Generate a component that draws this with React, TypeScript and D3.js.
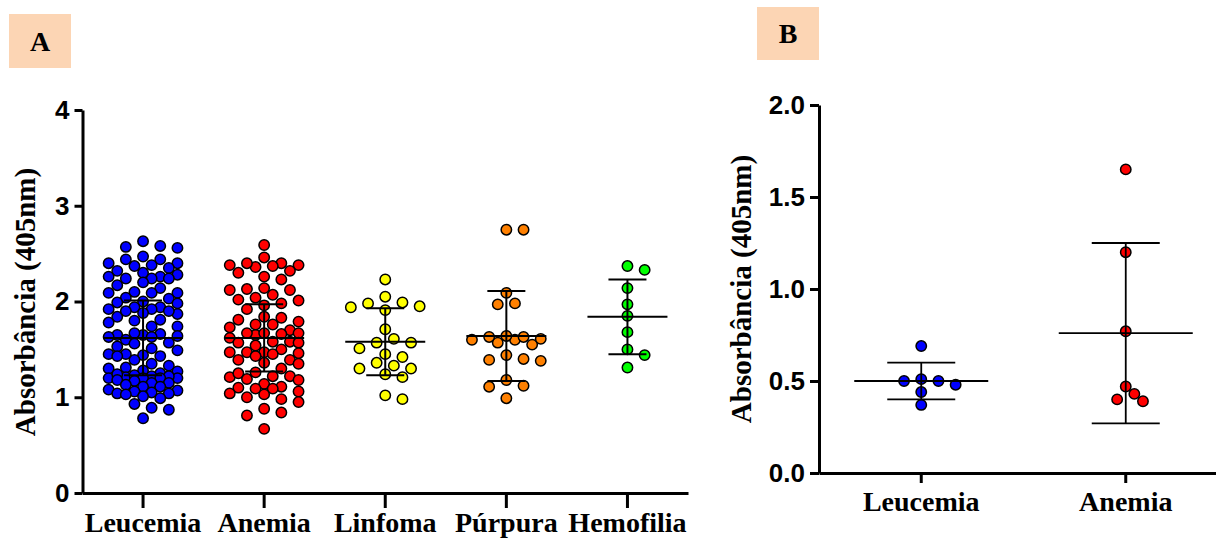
import { useRef, useEffect } from "react";
import * as d3 from "d3";

// panel A
const categoriesA = ["Leucemia", "Anemia", "Linfoma", "Púrpura", "Hemofilia"];
const leucemiaA = [
  2.63, 2.58, 2.57, 2.56, 2.47, 2.44, 2.44, 2.4, 2.4, 2.38, 2.37, 2.35, 2.32, 2.28,
  2.26, 2.26, 2.24, 2.24, 2.24, 2.3, 2.2, 2.17, 2.14, 2.1, 2.09, 2.09, 2.09,
  2.04, 2.03, 2.0, 1.98, 1.99, 1.94, 1.92, 1.92, 1.94, 1.9, 1.87, 1.88, 1.9,
  1.84, 1.81, 1.8, 1.74, 1.74, 1.78, 1.64, 1.65, 1.66, 1.65, 1.63, 1.63, 1.67,
  1.6, 1.57, 1.56, 1.49, 1.51, 1.53, 1.43, 1.45, 1.44, 1.45, 1.43, 1.39, 1.35,
  1.33, 1.3, 1.31, 1.28, 1.27, 1.25, 1.21, 1.23, 1.2, 1.22, 1.24, 1.2, 1.2, 1.22, 1.2,
  1.18, 1.17, 1.15, 1.15, 1.13, 1.11, 1.11, 1.08, 1.07, 1.05, 1.04, 1.06, 1.04, 1.01,
  0.99, 1.03, 0.93, 0.89, 0.87, 0.78,
];
const anemiaA = [
  2.59, 2.46, 2.4, 2.36, 2.38, 2.4, 2.37, 2.38, 2.32, 2.3, 2.26, 2.23,
  2.14, 2.12, 2.13, 2.12, 2.07, 2.02, 2.01, 2.04, 1.96, 1.98, 1.92,
  1.84, 1.81, 1.83, 1.79, 1.73, 1.76, 1.76, 1.7, 1.65, 1.67, 1.67, 1.67, 1.66,
  1.62, 1.58, 1.58, 1.57, 1.57, 1.54, 1.47, 1.46, 1.5, 1.47, 1.45, 1.47,
  1.36, 1.39, 1.43, 1.39, 1.35, 1.3, 1.26, 1.21, 1.22, 1.22, 1.25, 1.19, 1.18, 1.14,
  1.11, 1.09, 1.09, 1.1, 1.04, 1.06, 1.0, 1.03, 0.98, 0.95, 0.84, 0.88, 0.81, 0.67,
];
const linfomaA = [
  2.23, 2.05, 1.99, 1.95, 1.91, 1.94, 1.98, 1.71, 1.57, 1.61, 1.57,
  1.51, 1.42, 1.45, 1.3, 1.36, 1.3, 1.33, 1.24, 1.21, 0.98, 1.02,
];
const purpuraA = [
  2.75, 2.75, 2.09, 1.97, 1.98, 1.6, 1.55, 1.6, 1.63, 1.57, 1.64,
  1.61, 1.63, 1.44, 1.4, 1.38, 1.39, 1.18, 1.12, 1.11, 0.99,
];
const hemofiliaA = [2.37, 2.33, 2.14, 1.97, 1.85, 1.68, 1.5, 1.44, 1.31];
// mean and sd as drawn in the figure
const meanA = [1.62, 1.62, 1.58, 1.64, 1.84];
const sdA = [0.39, 0.35, 0.35, 0.47, 0.39];
const ticksA = [0, 1, 2, 3, 4];

// panel B
const categoriesB = ["Leucemia", "Anemia"];
const leucemiaB = [0.69, 0.51, 0.5, 0.48, 0.5, 0.44, 0.37];
const anemiaB = [1.65, 1.2, 0.77, 0.43, 0.39, 0.4, 0.47];
const meanB = [0.5, 0.76];
const sdB = [0.1, 0.49];
const ticksB = [0, 0.5, 1, 1.5, 2];

const colorsA = ["#0000ff", "#ff0000", "#ffff00", "#ff8000", "#00ff00"];
const colorsB = ["#0000ff", "#ff0000"];
const yTitle = "Absorbância (405nm)";

const serif = "Liberation Serif, Times New Roman, serif";
const sans = "Liberation Sans, Arial, sans-serif";

// greedy column layout, like a prism scatter dot plot
function swarm(values: number[], y: (v: number) => number, step: number, minDist: number, maxCol: number) {
  const placed: { x: number; y: number }[] = [];
  const out: number[] = new Array(values.length).fill(0);
  const order = values.map((_, i) => i).sort((a, b) => values[b] - values[a]);
  for (const i of order) {
    const py = y(values[i]);
    let best = 0;
    let bestD = -1;
    for (let k = 0; k <= 2 * maxCol; k++) {
      const col = k === 0 ? 0 : k % 2 ? Math.ceil(k / 2) : -k / 2;
      const px = col * step;
      let dmin = Infinity;
      for (const p of placed) dmin = Math.min(dmin, Math.hypot(p.x - px, p.y - py));
      if (dmin >= minDist) { best = px; break; }
      if (dmin > bestD) { bestD = dmin; best = px; }
    }
    placed.push({ x: best, y: py });
    out[i] = best;
  }
  return out;
}

function drawPanel(svg: any, opt: any) {
  const { cats, groups, means, sds, colors, x0, x1, yTop, yBottom, domain, ticks, fmt,
    yTickLen, xTickLen, xPad, meanHalf, capHalf, lineW, label, box, titleX, titleY, step } = opt;
  const x = d3.scaleBand().domain(cats).range([x0, x1]);
  const y = d3.scaleLinear().domain(domain).range([yBottom, yTop]);
  const g = svg.append("g");

  // label box
  g.append("rect").attr("x", box[0]).attr("y", box[1]).attr("width", box[2]).attr("height", box[3]).attr("fill", "#fcd5b4");
  g.append("text").attr("x", box[0] + box[2] / 2).attr("y", box[4]).attr("text-anchor", "middle")
    .attr("font-family", serif).attr("font-weight", "bold").attr("font-size", 28).text(label);

  // y title
  g.append("text").attr("transform", `translate(${titleX},${titleY}) rotate(-90)`).attr("text-anchor", "middle")
    .attr("font-family", serif).attr("font-weight", "bold").attr("font-size", 29).text(yTitle);

  // axes
  const yAxis = g.append("g").attr("transform", `translate(${x0},0)`)
    .call(d3.axisLeft(y).tickValues(ticks).tickFormat(d3.format(fmt)).tickSize(yTickLen).tickSizeOuter(0).tickPadding(5));
  yAxis.select(".domain").attr("stroke-width", 3);
  yAxis.selectAll(".tick line").attr("stroke-width", 3);
  yAxis.selectAll("text").attr("font-family", sans).attr("font-weight", "bold")
    .attr("font-size", 26).attr("fill", "#000");

  const xAxis = g.append("g").attr("transform", `translate(0,${yBottom})`)
    .call(d3.axisBottom(x).tickSize(xTickLen).tickSizeOuter(0).tickPadding(xPad));
  xAxis.select(".domain").attr("stroke-width", 3);
  xAxis.selectAll(".tick line").attr("stroke-width", 3);
  xAxis.selectAll("text").attr("font-family", serif).attr("font-weight", "bold")
    .attr("font-size", 28).attr("fill", "#000");

  groups.forEach((vals: number[], gi: number) => {
    const cx = x(cats[gi])! + x.bandwidth() / 2;
    const offs = swarm(vals, y, step, 11, 4);
    g.append("g").selectAll("circle").data(vals).join("circle")
      .attr("cx", (d: number, i: number) => cx + offs[i])
      .attr("cy", (d: number) => y(d))
      .attr("r", 5.2)
      .attr("fill", colors[gi])
      .attr("stroke", "#000")
      .attr("stroke-width", 1.5);

    const m = means[gi];
    const sd = sds[gi];
    const lines = [
      [cx - meanHalf, y(m), cx + meanHalf, y(m)],
      [cx, y(m + sd), cx, y(m - sd)],
      [cx - capHalf, y(m + sd), cx + capHalf, y(m + sd)],
      [cx - capHalf, y(m - sd), cx + capHalf, y(m - sd)],
    ];
    g.append("g").selectAll("line").data(lines).join("line")
      .attr("x1", (d: number[]) => d[0]).attr("y1", (d: number[]) => d[1])
      .attr("x2", (d: number[]) => d[2]).attr("y2", (d: number[]) => d[3])
      .attr("stroke", "#000").attr("stroke-width", lineW);
  });
}

export default function App() {
  const svgRef = useRef<SVGSVGElement>(null);

  useEffect(() => {
    const svg = d3.select(svgRef.current);
    svg.selectAll("*").remove();

    drawPanel(svg, {
      cats: categoriesA,
      groups: [leucemiaA, anemiaA, linfomaA, purpuraA, hemofiliaA],
      means: meanA, sds: sdA,
      colors: colorsA,
      x0: 82.5, x1: 688, yTop: 110, yBottom: 493,
      domain: [0, 4], ticks: ticksA, fmt: "d",
      yTickLen: 8, xTickLen: 15, xPad: 4, meanHalf: 40, capHalf: 19, lineW: 2,
      label: "A", box: [9, 14, 62, 54, 51], titleX: 35, titleY: 302, step: 8.6,
    });

    drawPanel(svg, {
      cats: categoriesB,
      groups: [leucemiaB, anemiaB],
      means: meanB, sds: sdB,
      colors: colorsB,
      x0: 819, x1: 1228, yTop: 105, yBottom: 473,
      domain: [0, 2], ticks: ticksB, fmt: ".1f",
      yTickLen: 9, xTickLen: 10, xPad: 8, meanHalf: 67, capHalf: 34, lineW: 1.8,
      label: "B", box: [757, 7, 62, 53, 43], titleX: 751, titleY: 289, step: 8.6,
    });
  }, []);

  return (
    <svg
      ref={svgRef}
      width={1216}
      height={541}
      style={{ position: "absolute", left: 0, top: 0, display: "block", background: "#fff" }}
    />
  );
}
